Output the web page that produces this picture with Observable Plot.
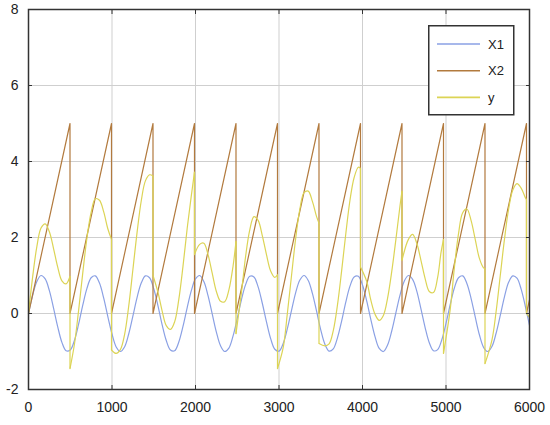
<!DOCTYPE html>
<html><head><meta charset="utf-8">
<script src="https://cdn.jsdelivr.net/npm/d3@7"></script>
<script src="https://cdn.jsdelivr.net/npm/@observablehq/plot@0.6"></script>
<style>
html,body{margin:0;padding:0;background:#fff;}
#wrap{position:relative;width:550px;height:425px;}
#wrap svg{display:block;}
</style></head><body><div id="wrap"></div>
<script>
const seriesNames = ["X1", "X2", "y"];
const seriesColors = ["#8aa0e4", "#b27a3e", "#dcd455"];
const xTicks = [0, 1000, 2000, 3000, 4000, 5000, 6000];
const yTicks = [-2, 0, 2, 4, 6, 8];

const x1T = [0,50,100,150,200,250,300,350,400,450,500,550,600,650,700,750,800,850,900,950,
1000,1050,1100,1150,1200,1250,1300,1350,1400,1450,1500,1550,1600,1650,1700,1750,1800,1850,1900,1950,
2000,2050,2100,2150,2200,2250,2300,2350,2400,2450,2500,2550,2600,2650,2700,2750,2800,2850,2900,2950,
3000,3050,3100,3150,3200,3250,3300,3350,3400,3450,3500,3550,3600,3650,3700,3750,3800,3850,3900,3950,
4000,4050,4100,4150,4200,4250,4300,4350,4400,4450,4500,4550,4600,4650,4700,4750,4800,4850,4900,4950,
5000,5050,5100,5150,5200,5250,5300,5350,5400,5450,5500,5550,5600,5650,5700,5750,5800,5850,5900,5950,6000];
const x1V = [0,0.48,0.84,1.00,0.91,0.60,0.14,-0.35,-0.76,-0.98,
-0.96,-0.71,-0.28,0.22,0.66,0.94,0.99,0.80,0.41,-0.08,
-0.54,-0.88,-1.00,-0.88,-0.54,-0.07,0.42,0.80,0.99,0.94,
0.65,0.21,-0.29,-0.71,-0.96,-0.98,-0.75,-0.34,0.15,0.60,
0.91,1.00,0.84,0.47,-0.01,-0.49,-0.85,-1.00,-0.91,-0.59,
-0.13,0.36,0.76,0.98,0.96,0.70,0.27,-0.22,-0.66,-0.94,
-0.99,-0.79,-0.40,0.08,0.55,0.88,1.00,0.87,0.53,0.06,
-0.43,-0.81,-0.99,-0.93,-0.64,-0.20,0.30,0.72,0.96,0.98,
0.75,0.33,-0.16,-0.61,-0.92,-1.00,-0.83,-0.46,0.02,0.49,
0.85,1.00,0.90,0.59,0.12,-0.37,-0.77,-0.98,-0.95,-0.69,
-0.26,0.23,0.67,0.94,0.99,0.79,0.40,-0.09,-0.56,-0.89,
-1.00,-0.87,-0.52,-0.05,0.44,0.82,0.99,0.93,0.64,0.19,
-0.31];

const x2T = [0,497,497,994,994,1491,1491,1988,1988,2485,2485,2982,2982,3479,3479,3976,3976,4473,4473,4970,4970,5467,5467,5964,5964,6000];
const x2V = [0,5,0,5,0,5,0,5,0,5,0,5,0,5,0,5,0,5,0,5,0,5,0,5,0,0.36];

const yT = [
0,50,100,150,200,250,300,350,400,450,497,
497,550,600,650,700,750,800,850,900,950,994,
994,1050,1100,1150,1200,1250,1300,1350,1400,1450,1491,
1491,1550,1600,1650,1700,1750,1800,1850,1900,1950,1988,
1988,2050,2100,2150,2200,2250,2300,2350,2400,2450,2485,
2485,2550,2600,2650,2700,2750,2800,2850,2900,2950,2982,
2982,3050,3100,3150,3200,3250,3300,3350,3400,3450,3479,
3479,3550,3600,3650,3700,3750,3800,3850,3900,3950,3976,
3976,4050,4100,4150,4200,4250,4300,4350,4400,4450,4473,
4473,4550,4600,4650,4700,4750,4800,4850,4900,4940,4970,
4970,5050,5100,5150,5200,5250,5300,5350,5400,5450,5467,
5467,5550,5600,5650,5700,5750,5800,5850,5900,5950,5964,
5964,6000];
const yV = [
0,0.97,1.76,2.25,2.36,2.15,1.71,1.22,0.86,0.78,0.98,
-1.45,-0.81,0.08,1.07,1.99,2.66,3.02,2.98,2.68,2.23,1.95,
-0.96,-1.05,-0.95,-0.56,0.19,1.15,2.13,2.96,3.49,3.65,3.62,
1.0,0.56,0.07,-0.32,-0.42,-0.22,0.37,1.24,2.23,3.1,3.72,
1.55,1.82,1.85,1.55,1.06,0.58,0.32,0.31,0.62,1.25,1.9,
-0.53,0.55,1.5,2.2,2.55,2.45,2.05,1.55,1.12,0.95,1.02,
-1.45,-0.9,0.0,1.0,1.98,2.75,3.18,3.22,2.95,2.55,2.38,
-0.79,-0.85,-0.8,-0.45,0.22,1.12,2.1,2.98,3.58,3.85,3.82,
1.22,0.85,0.35,-0.02,-0.18,-0.05,0.4,1.1,1.95,2.85,3.22,
1.4,1.95,2.08,1.85,1.4,0.92,0.58,0.55,0.95,1.6,1.95,
-1.05,0.1,1.2,2.1,2.65,2.75,2.45,1.95,1.45,1.2,1.18,
-1.32,-0.7,0.05,1.0,1.95,2.75,3.25,3.42,3.3,3.05,3.0,
0.0,-0.1];

const x1Data = x1T.map((t, i) => ({t, v: x1V[i]}));
const x2Data = x2T.map((t, i) => ({t, v: x2V[i]}));
const yData = [];
const yDrops = [];
let seg = 0;
yT.forEach((t, i) => {
  if (i > 0 && t === yT[i - 1]) { seg++; yDrops.push({t, from: yV[i - 1], to: yV[i]}); }
  yData.push({t, v: yV[i], seg});
});

const font = "'Liberation Sans', Arial, sans-serif";
const fmt = d => String(d);
const tickOnly = {tickSize: -4, tickFormat: () => "", label: null, stroke: "#333"};

const plot = Plot.plot({
  width: 550, height: 425,
  marginLeft: 28, marginRight: 21, marginTop: 9, marginBottom: 36,
  style: {fontFamily: font, fontSize: "14px", color: "#222", background: "#fff"},
  x: {domain: [0, 6000]},
  y: {domain: [-2, 8]},
  marks: [
    Plot.gridX(xTicks, {stroke: "#cfcfcf", strokeOpacity: 1}),
    Plot.gridY(yTicks, {stroke: "#cfcfcf", strokeOpacity: 1}),
    Plot.line(x1Data, {x: "t", y: "v", stroke: seriesColors[0], strokeWidth: 1.2, curve: "catmull-rom"}),
    Plot.line(x2Data, {x: "t", y: "v", stroke: seriesColors[1], strokeWidth: 1.2}),
    Plot.line(yData, {x: "t", y: "v", z: "seg", stroke: seriesColors[2], strokeWidth: 1.2, curve: "catmull-rom"}),
    Plot.link(yDrops, {x1: "t", x2: "t", y1: "from", y2: "to", stroke: seriesColors[2], strokeWidth: 1.2}),
    Plot.axisX(xTicks, {anchor: "bottom", tickSize: 0, tickPadding: 13, label: null, fontSize: 14, tickFormat: fmt}),
    Plot.axisY(yTicks, {anchor: "left", tickSize: 0, tickPadding: 10, label: null, fontSize: 14, tickFormat: fmt}),
    Plot.axisX(xTicks, {anchor: "bottom", ...tickOnly}),
    Plot.axisX(xTicks, {anchor: "top", ...tickOnly}),
    Plot.axisY(yTicks, {anchor: "left", ...tickOnly}),
    Plot.axisY(yTicks, {anchor: "right", ...tickOnly}),
    Plot.frame({stroke: "#333", strokeWidth: 1.5})
  ]
});
const wrap = document.getElementById("wrap");
wrap.appendChild(plot);

// legend inside the plot area (top right)
const leg = d3.select(wrap).append("svg")
  .attr("width", 87).attr("height", 91)
  .style("position", "absolute").style("left", "427.5px").style("top", "24.5px");
leg.append("rect").attr("x", 0.75).attr("y", 0.75).attr("width", 85).attr("height", 89)
  .attr("fill", "#fff").attr("stroke", "#333").attr("stroke-width", 1.5);
seriesNames.forEach((name, i) => {
  const yy = 19 + i * 26.7;
  leg.append("line").attr("x1", 9).attr("x2", 52).attr("y1", yy).attr("y2", yy)
    .attr("stroke", seriesColors[i]).attr("stroke-width", 1.6);
  leg.append("text").attr("x", 60).attr("y", yy).attr("dy", "0.35em")
    .attr("font-size", 13).attr("font-family", font).attr("fill", "#222").text(name);
});
</script></body></html>
